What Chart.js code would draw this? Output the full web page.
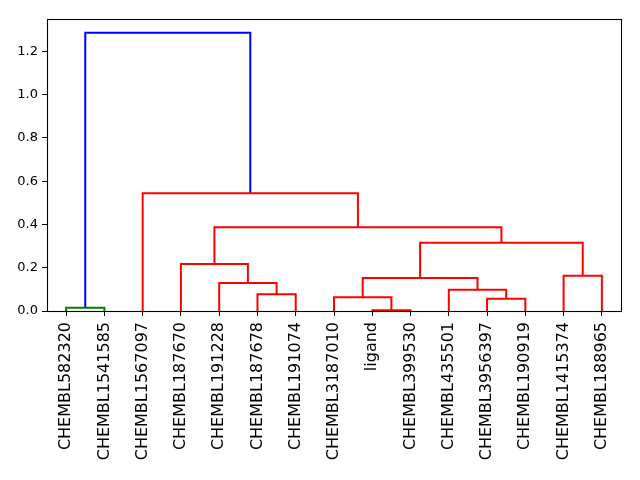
<!DOCTYPE html>
<html>
<head>
<meta charset="utf-8">
<script src="https://cdn.jsdelivr.net/npm/chart.js@4/dist/chart.umd.min.js"></script>
<style>
  html, body { margin: 0; padding: 0; background: #fff; }
  #wrap { width: 640px; height: 480px; }
</style>
</head>
<body>
<div id="wrap"><canvas id="dendro" width="640" height="480"></canvas></div>
<script>
// leaves, in the order they are drawn
const leafLabels = ['CHEMBL582320', 'CHEMBL1541585', 'CHEMBL1567097', 'CHEMBL187670', 'CHEMBL191228',
    'CHEMBL187678', 'CHEMBL191074', 'CHEMBL3187010', 'ligand', 'CHEMBL399530',
    'CHEMBL435501', 'CHEMBL3956397', 'CHEMBL190919', 'CHEMBL1415374', 'CHEMBL188965'];

// linkage: merge i makes cluster id 15 + i from two children
const mergeLeft    = [8, 0, 11, 7, 5, 10, 4, 18, 13, 3, 22, 24, 2, 16];
const mergeRight   = [9, 1, 12, 15, 6, 17, 19, 20, 14, 21, 23, 25, 26, 27];
const mergeHeights = [0.004, 0.015, 0.057, 0.063, 0.078, 0.098, 0.129, 0.153, 0.163, 0.217, 0.316, 0.387, 0.544, 1.287];
const mergeColors  = ['red', 'green', 'red', 'red', 'red', 'red', 'red', 'red', 'red', 'red', 'red', 'red', 'red', 'blue'];

const yTicks = [0.0, 0.2, 0.4, 0.6, 0.8, 1.0, 1.2];

const n = leafLabels.length;
const leafPos = leafLabels.map((_, i) => 5 + 10 * i);

// x centre and height of each node
function nodeX(id) {
    if (id < n) return leafPos[id];
    const k = id - n;
    return (nodeX(mergeLeft[k]) + nodeX(mergeRight[k])) / 2;
}
function nodeY(id) {
    return id < n ? 0 : mergeHeights[id - n];
}

const colorMap = { red: '#ff0000', green: '#008000', blue: '#0000ff' };

const datasets = mergeHeights.map((h, k) => {
    const a = mergeLeft[k], b = mergeRight[k];
    return {
        data: [
            { x: nodeX(a), y: nodeY(a) },
            { x: nodeX(a), y: h },
            { x: nodeX(b), y: h },
            { x: nodeX(b), y: nodeY(b) }
        ],
        borderColor: colorMap[mergeColors[k]],
        borderWidth: 2,
        pointRadius: 0,
        tension: 0,
        fill: false,
        clip: false
    };
});

const frame = {
    id: 'frame',
    afterDraw(chart) {
        const { ctx, chartArea: a } = chart;
        ctx.save();
        ctx.strokeStyle = '#000';
        ctx.lineWidth = 1.1;
        ctx.strokeRect(Math.round(a.left) + 0.5, Math.round(a.top) + 0.5,
            Math.round(a.right - a.left), Math.round(a.bottom - a.top));
        ctx.restore();
    }
};

Chart.defaults.font.family = 'DejaVu Sans';
Chart.defaults.color = '#000';

new Chart(document.getElementById('dendro').getContext('2d'), {
    type: 'line',
    data: { datasets: datasets },
    options: {
        responsive: false,
        animation: false,
        layout: { padding: { top: 19, right: 19, left: 0, bottom: 0 } },
        plugins: { legend: { display: false }, tooltip: { enabled: false } },
        scales: {
            x: {
                type: 'linear',
                min: 0,
                max: 10 * n,
                afterBuildTicks: (axis) => { axis.ticks = leafPos.map(v => ({ value: v })); },
                afterFit: (axis) => { axis.height = 169; },
                ticks: {
                    autoSkip: false,
                    minRotation: 90,
                    maxRotation: 90,
                    font: { size: 16 },
                    padding: 6,
                    callback: (v) => leafLabels[Math.round((v - 5) / 10)]
                },
                grid: { drawOnChartArea: false, tickLength: 5, color: '#000' },
                border: { display: false }
            },
            y: {
                min: 0,
                max: 1.35,
                afterBuildTicks: (axis) => { axis.ticks = yTicks.map(v => ({ value: v })); },
                afterFit: (axis) => { axis.width = 47; },
                ticks: {
                    font: { size: 13 },
                    padding: 4,
                    callback: (v) => v.toFixed(1)
                },
                grid: { drawOnChartArea: false, tickLength: 5, color: '#000' },
                border: { display: false }
            }
        }
    },
    plugins: [frame]
});
</script>
</body>
</html>
